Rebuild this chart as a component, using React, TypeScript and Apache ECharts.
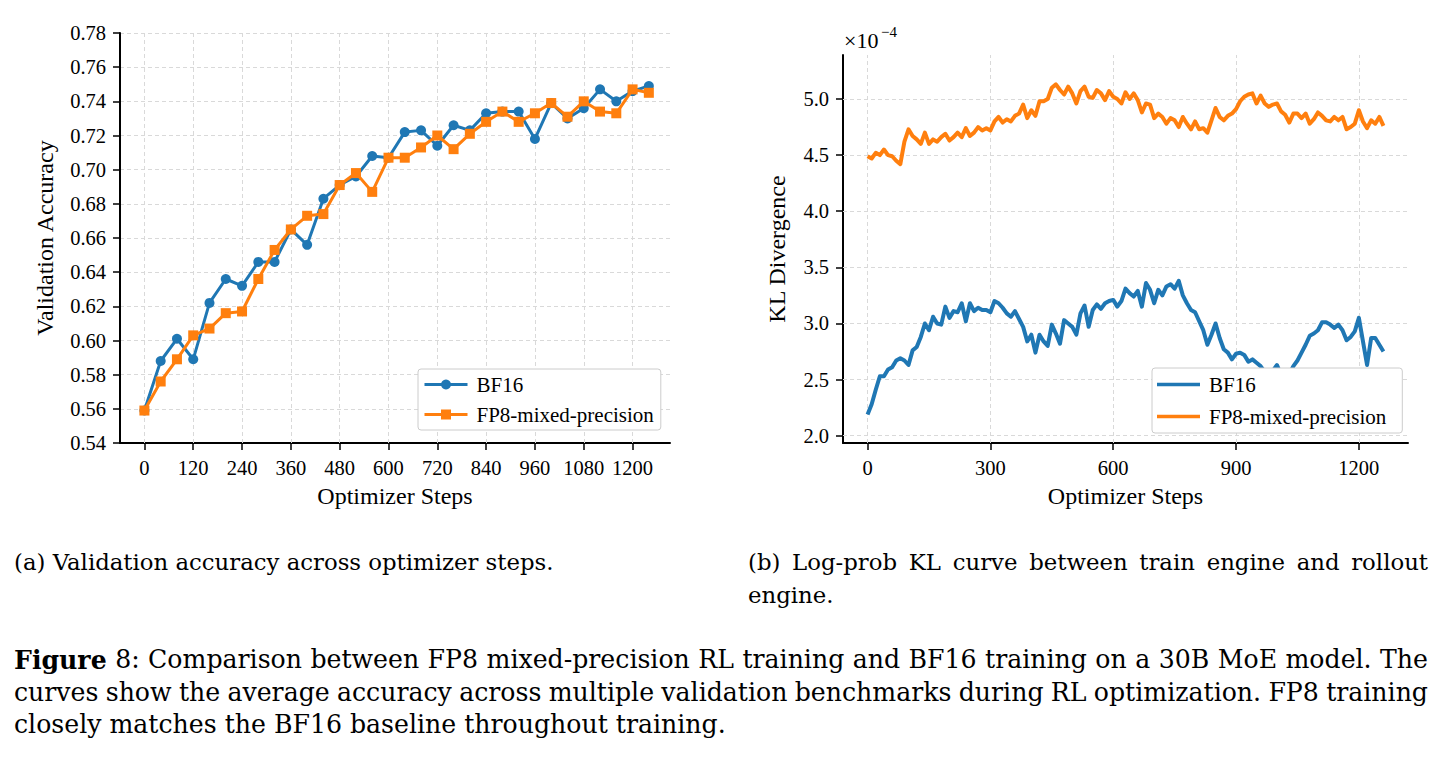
import { useEffect, useRef } from "react";
import * as echarts from "echarts";

// ---------- data: (a) validation accuracy ----------
const ACC_STEPS = [0, 40, 80, 120, 160, 200, 240, 280, 320, 360, 400, 440, 480, 520, 560, 600,
  640, 680, 720, 760, 800, 840, 880, 920, 960, 1000, 1040, 1080, 1120, 1160, 1200, 1240];
const ACC_BF16 = [0.559, 0.588, 0.601, 0.589, 0.622, 0.636, 0.632, 0.646, 0.646, 0.665, 0.656, 0.683, 0.691, 0.696, 0.708, 0.707,
  0.722, 0.723, 0.714, 0.726, 0.723, 0.733, 0.734, 0.734, 0.718, 0.739, 0.730, 0.736, 0.747, 0.740, 0.746, 0.749];
const ACC_FP8 = [0.559, 0.576, 0.589, 0.603, 0.607, 0.616, 0.617, 0.636, 0.653, 0.665, 0.673, 0.674, 0.691, 0.698, 0.687, 0.707,
  0.707, 0.713, 0.720, 0.712, 0.721, 0.728, 0.734, 0.728, 0.733, 0.739, 0.731, 0.740, 0.734, 0.733, 0.747, 0.745];
const ACC_X_TICKS = [0, 120, 240, 360, 480, 600, 720, 840, 960, 1080, 1200];

// ---------- data: (b) KL divergence (units of 1e-4), one reading every 10 steps ----------
const KL_STEP = 10;
const KL_FP8 = [
  4.49, 4.47, 4.52, 4.50, 4.55, 4.50, 4.49, 4.45, 4.42, 4.62,
  4.73, 4.67, 4.64, 4.60, 4.70, 4.60, 4.64, 4.62, 4.66, 4.69,
  4.63, 4.66, 4.70, 4.66, 4.74, 4.67, 4.70, 4.75, 4.72, 4.74,
  4.72, 4.80, 4.84, 4.79, 4.82, 4.80, 4.85, 4.87, 4.95, 4.83,
  4.90, 4.85, 4.98, 4.98, 5.00, 5.10, 5.13, 5.08, 5.04, 5.11,
  5.05, 4.96, 5.07, 5.11, 5.02, 5.01, 5.08, 5.05, 4.99, 5.07,
  5.02, 5.00, 4.96, 5.06, 5.00, 5.05, 4.99, 4.88, 4.96, 4.95,
  4.83, 4.87, 4.84, 4.78, 4.83, 4.81, 4.75, 4.84, 4.78, 4.73,
  4.80, 4.73, 4.74, 4.70, 4.81, 4.92, 4.84, 4.81, 4.85, 4.87,
  4.91, 4.98, 5.02, 5.04, 5.05, 4.96, 5.03, 4.96, 4.93, 4.95,
  4.96, 4.89, 4.86, 4.79, 4.87, 4.87, 4.83, 4.87, 4.78, 4.82,
  4.88, 4.85, 4.81, 4.80, 4.84, 4.81, 4.84, 4.73, 4.75, 4.78,
  4.90, 4.80, 4.74, 4.81, 4.78, 4.84, 4.76];
const KL_BF16 = [
  2.19, 2.28, 2.41, 2.53, 2.53, 2.59, 2.61, 2.67, 2.69, 2.67,
  2.63, 2.76, 2.79, 2.88, 3.00, 2.94, 3.06, 3.00, 2.99, 3.15,
  3.05, 3.11, 3.10, 3.18, 3.02, 3.18, 3.11, 3.14, 3.12, 3.12,
  3.10, 3.20, 3.18, 3.14, 3.09, 3.06, 3.11, 3.04, 2.97, 2.84,
  2.90, 2.74, 2.90, 2.84, 2.80, 2.99, 2.91, 2.82, 3.03, 3.00,
  2.97, 2.90, 3.09, 3.16, 2.97, 3.12, 3.17, 3.13, 3.18, 3.20,
  3.21, 3.15, 3.20, 3.31, 3.27, 3.24, 3.29, 3.15, 3.36, 3.30,
  3.18, 3.30, 3.25, 3.33, 3.35, 3.31, 3.38, 3.25, 3.18, 3.12,
  3.10, 3.02, 2.94, 2.81, 2.90, 3.00, 2.87, 2.77, 2.74, 2.68,
  2.73, 2.74, 2.72, 2.66, 2.68, 2.65, 2.62, 2.57, 2.55, 2.58,
  2.63, 2.54, 2.52, 2.55, 2.62, 2.67, 2.74, 2.81, 2.89, 2.91,
  2.94, 3.01, 3.01, 2.99, 2.96, 2.99, 2.94, 2.85, 2.88, 2.93,
  3.05, 2.84, 2.63, 2.87, 2.87, 2.81, 2.75];
const KL_X_TICKS = [0, 300, 600, 900, 1200];
const KL_Y_TICKS = [2.0, 2.5, 3.0, 3.5, 4.0, 4.5, 5.0];

const SERIES_NAMES = ["BF16", "FP8-mixed-precision"];
const CAPTION_A = "(a) Validation accuracy across optimizer steps.";
const CAPTION_B = ["(b) Log-prob KL curve between train engine and rollout", "engine."];
const FIGURE_LINES = [
  "Figure 8: Comparison between FP8 mixed-precision RL training and BF16 training on a 30B MoE model. The",
  "curves show the average accuracy across multiple validation benchmarks during RL optimization. FP8 training",
  "closely matches the BF16 baseline throughout training.",
];

const SERIF = '"Liberation Serif", "Times New Roman", serif';
const CAP_FAMILY = '"DejaVu Serif", serif';
const SUB_SIZE = 22.8; // sub-captions (a), (b)
const FIG_SIZE = 25.2; // main figure caption
const BLUE = "#1f77b4";
const ORANGE = "#ff7f0e";
const GRID_COLOR = "#d9d9d9";

const axisLine = { show: true, onZero: false, lineStyle: { color: "#000", width: 2 } };
const tick = (vals?: number[]) => ({
  show: true, length: 7, lineStyle: { color: "#000", width: 1.5 },
  ...(vals ? { customValues: vals } : {}),
});
const label = (vals: number[] | undefined, fmt: (v: number) => string) => ({
  color: "#000", fontFamily: SERIF, fontSize: 20.5, margin: 14,
  ...(vals ? { customValues: vals } : {}),
  formatter: fmt,
});
const nameStyle = { color: "#000", fontFamily: SERIF, fontSize: 24 };

const gridLines = (xi: number, data: any[]) => ({
  type: "line", name: "_grid" + xi, xAxisIndex: xi, yAxisIndex: xi, data: [], silent: true, z: 1,
  markLine: {
    silent: true, z: 1, symbol: ["none", "none"], label: { show: false },
    lineStyle: { color: GRID_COLOR, type: [4, 3], width: 1 },
    emphasis: { disabled: true }, data,
  },
});

const legendCommon = {
  orient: "vertical", padding: [5, 7, 5, 5], itemGap: 9, itemWidth: 43,
  backgroundColor: "#fff", borderColor: "#cccccc", borderWidth: 1, borderRadius: 3, z: 20,
  lineStyle: { width: 3 },
  textStyle: { color: "#000", fontFamily: SERIF, fontSize: 21, padding: [0, 0, 0, 4] },
  selectedMode: false,
};

// justified caption line -> rich text with fixed-width gap tokens
function justifyLine(line: string, width: number, size: number, boldFirst: boolean) {
  const ctx = document.createElement("canvas").getContext("2d")!;
  const words = line.split(" ");
  let total = 0;
  words.forEach((w, i) => {
    ctx.font = `${boldFirst && i === 0 ? "bold " : ""}${size}px ${CAP_FAMILY}`;
    total += ctx.measureText(w).width;
  });
  ctx.font = `${size}px ${CAP_FAMILY}`;
  const space = ctx.measureText(" ").width;
  const gap = Math.max(space * 0.6, (width - total) / (words.length - 1));
  const text = words.map((w, i) => (boldFirst && i === 0 ? `{b|${w}}` : `{t|${w}}`)).join("{g| }");
  const rich = {
    t: { fontFamily: CAP_FAMILY, fontSize: size, fill: "#000" },
    b: { fontFamily: CAP_FAMILY, fontSize: size, fontWeight: "bold", fill: "#000" },
    g: { fontFamily: CAP_FAMILY, fontSize: size, width: gap },
  };
  return { text, rich, size };
}

export default function App() {
  const ref = useRef<HTMLDivElement>(null);
  useEffect(() => {
    const chart = echarts.init(ref.current!, null, { renderer: "svg" });
    const justified = [
      { ...justifyLine(CAPTION_B[0], 680, SUB_SIZE, false), left: 748, top: 550 },
      { ...justifyLine(FIGURE_LINES[0], 1414, FIG_SIZE, true), left: 14, top: 647 },
      { ...justifyLine(FIGURE_LINES[1], 1414, FIG_SIZE, false), left: 14, top: 680 },
    ];
    const option: any = {
      animation: false,
      backgroundColor: "#fff",
      grid: [
        { left: 120, top: 33, width: 550, height: 410 },
        { left: 843, top: 55, width: 565, height: 388 },
      ],
      xAxis: [
        {
          gridIndex: 0, type: "value", min: -60, max: 1292,
          axisLine, axisTick: tick(ACC_X_TICKS), axisLabel: label(ACC_X_TICKS, (v) => String(v)), splitLine: { show: false },
          name: "Optimizer Steps", nameLocation: "middle", nameGap: 41, nameTextStyle: nameStyle,
        },
        {
          gridIndex: 1, type: "value", min: -60, max: 1320,
          axisLine, axisTick: tick(KL_X_TICKS), axisLabel: label(KL_X_TICKS, (v) => String(v)), splitLine: { show: false },
          name: "Optimizer Steps", nameLocation: "middle", nameGap: 41, nameTextStyle: nameStyle,
        },
      ],
      yAxis: [
        {
          gridIndex: 0, type: "value", min: 0.54, max: 0.78, interval: 0.02,
          axisLine, axisTick: tick(), axisLabel: label(undefined, (v: number) => v.toFixed(2)),
          splitLine: { show: true, lineStyle: { color: GRID_COLOR, type: [4, 3], width: 1 } },
          name: "Validation Accuracy", nameLocation: "middle", nameGap: 63, nameTextStyle: nameStyle,
        },
        {
          gridIndex: 1, type: "value", min: 1.935, max: 5.392,
          axisLine, axisTick: tick(KL_Y_TICKS), axisLabel: label(KL_Y_TICKS, (v: number) => v.toFixed(1)),
          splitLine: { show: false },
          name: "KL Divergence", nameLocation: "middle", nameGap: 54, nameTextStyle: nameStyle,
        },
      ],
      legend: [
        { ...legendCommon, left: 418, top: 369, itemHeight: 12.5, data: SERIES_NAMES },
        {
          ...legendCommon, left: 1152, top: 368, icon: "rect", itemHeight: 3.5,
          padding: [6, 16, 6, 5], itemGap: 11,
          data: SERIES_NAMES.map((n) => n + " (KL)"),
          formatter: (n: string) => n.replace(" (KL)", ""),
        },
      ],
      series: [
        gridLines(0, ACC_X_TICKS.map((v) => ({ xAxis: v }))),
        gridLines(1, [...KL_X_TICKS.map((v) => ({ xAxis: v })), ...KL_Y_TICKS.map((v) => ({ yAxis: v }))]),
        {
          type: "line", name: SERIES_NAMES[0], xAxisIndex: 0, yAxisIndex: 0, z: 3,
          data: ACC_STEPS.map((s, i) => [s, ACC_BF16[i]]),
          symbol: "circle", symbolSize: 10, color: BLUE,
          lineStyle: { width: 3, color: BLUE }, itemStyle: { color: BLUE },
          emphasis: { disabled: true },
        },
        {
          type: "line", name: SERIES_NAMES[1], xAxisIndex: 0, yAxisIndex: 0, z: 4,
          data: ACC_STEPS.map((s, i) => [s, ACC_FP8[i]]),
          symbol: "rect", symbolSize: 10, color: ORANGE,
          lineStyle: { width: 3, color: ORANGE }, itemStyle: { color: ORANGE },
          emphasis: { disabled: true },
        },
        {
          type: "line", name: SERIES_NAMES[0] + " (KL)", xAxisIndex: 1, yAxisIndex: 1, z: 3,
          data: KL_BF16.map((v, i) => [i * KL_STEP, v]),
          symbol: "none", color: BLUE, lineStyle: { width: 4, color: BLUE, join: "round" },
          emphasis: { disabled: true },
        },
        {
          type: "line", name: SERIES_NAMES[1] + " (KL)", xAxisIndex: 1, yAxisIndex: 1, z: 4,
          data: KL_FP8.map((v, i) => [i * KL_STEP, v]),
          symbol: "none", color: ORANGE, lineStyle: { width: 4, color: ORANGE, join: "round" },
          emphasis: { disabled: true },
        },
      ],
      graphic: [
        { type: "text", left: 844, top: 29, style: { text: "×10", font: `22px ${SERIF}`, fill: "#000" } },
        { type: "text", left: 881, top: 24, style: { text: "−4", font: `15px ${SERIF}`, fill: "#000" } },
        { type: "text", left: 14, top: 550, style: { text: CAPTION_A, font: `${SUB_SIZE}px ${CAP_FAMILY}`, fill: "#000" } },
        { type: "text", left: 748, top: 583, style: { text: CAPTION_B[1], font: `${SUB_SIZE}px ${CAP_FAMILY}`, fill: "#000" } },
        { type: "text", left: 14, top: 712, style: { text: FIGURE_LINES[2], font: `${FIG_SIZE}px ${CAP_FAMILY}`, fill: "#000" } },
        ...justified.map((j) => ({
          type: "text", left: j.left, top: j.top,
          style: { text: j.text, fontFamily: CAP_FAMILY, fontSize: j.size, fill: "#000", rich: j.rich },
        })),
      ],
    };
    chart.setOption(option);
    return () => chart.dispose();
  }, []);
  return (
    <div
      ref={ref}
      style={{ position: "absolute", left: 0, top: 0, width: 1442, height: 762, background: "#fff" }}
    />
  );
}
